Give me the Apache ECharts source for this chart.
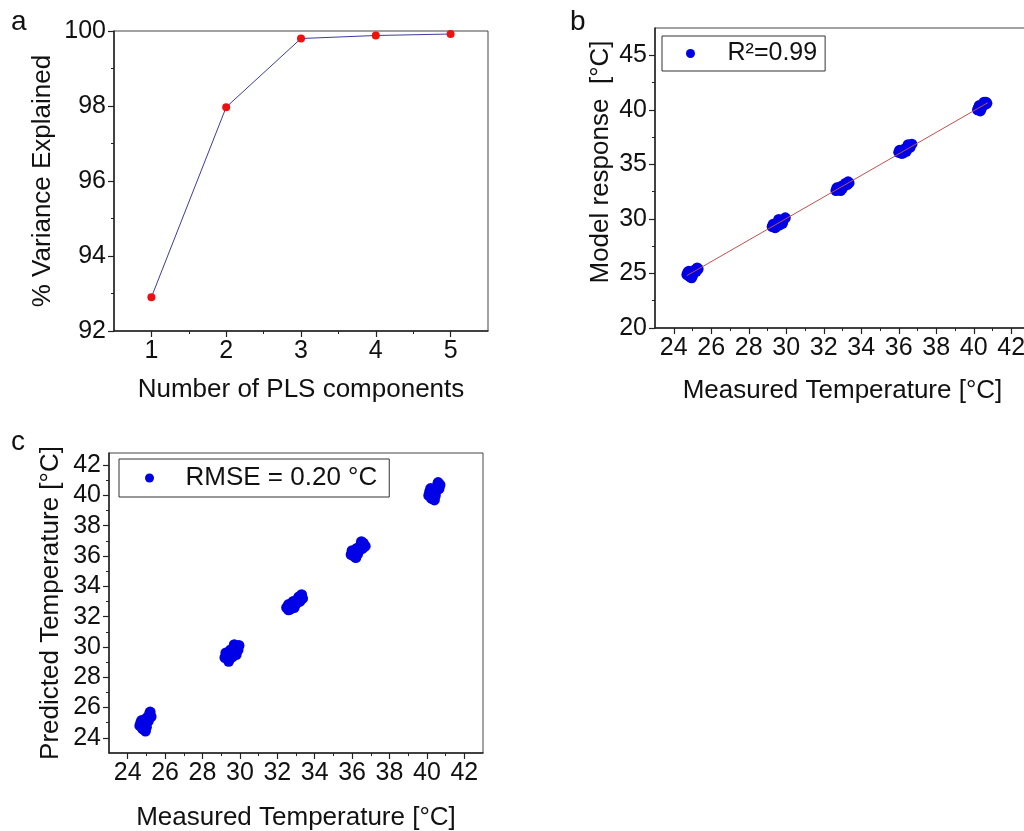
<!DOCTYPE html>
<html>
<head>
<meta charset="UTF-8">
<title>PLS temperature model</title>
<script src="https://cdn.jsdelivr.net/npm/echarts@6/dist/echarts.min.js"></script>
<style>
  html, body { margin: 0; padding: 0; background: #fff; }
  #main { width: 1024px; height: 831px; }
</style>
</head>
<body>
<div id="main"></div>
<script type="text/javascript">

    // panel a - variance explained
    var plsComponents = [1, 2, 3, 4, 5];
    var varianceExplained = [92.9, 97.97, 99.8, 99.88, 99.92];

    // panel b - calibration, measured vs model response
    var bMeasured = [
        24.7, 24.75, 24.85, 24.9, 25.0, 25.05, 25.1, 25.2, 25.25, 25.3, 24.95, 24.8,
        29.25, 29.3, 29.4, 29.5, 29.55, 29.65, 29.7, 29.8, 29.85, 29.95, 29.6, 29.45,
        32.65, 32.7, 32.8, 32.85, 32.95, 33.0, 33.1, 33.15, 33.25, 33.3, 33.35, 32.9,
        36.0, 36.05, 36.15, 36.2, 36.3, 36.4, 36.45, 36.55, 36.6, 36.7, 36.25, 36.5,
        40.2, 40.25, 40.3, 40.4, 40.45, 40.5, 40.6, 40.65, 40.7, 40.35, 40.55
    ];
    var bModel = [
        24.9, 25.1, 24.7, 25.0, 24.8, 25.1, 25.3, 25.2, 25.5, 25.4, 24.6, 25.2,
        29.3, 29.5, 29.2, 29.4, 29.7, 29.45, 29.75, 29.6, 29.9, 30.1, 29.95, 29.25,
        32.6, 32.85, 32.7, 32.9, 33.0, 32.8, 33.1, 33.25, 33.15, 33.4, 33.3, 32.6,
        36.1, 36.3, 36.0, 36.25, 36.4, 36.2, 36.5, 36.7, 36.55, 36.85, 36.05, 36.8,
        40.0, 40.2, 40.4, 40.1, 40.35, 40.55, 40.5, 40.7, 40.6, 39.9, 40.7
    ];
    var fitX = [24.7, 40.75];
    var fitY = [24.8, 40.65];

    // panel c - validation, measured vs predicted
    var cMeasured = [
        24.65, 24.7, 24.8, 24.85, 24.9, 25.0, 25.0, 25.05, 25.1, 25.15, 25.2, 25.25, 24.95, 24.75,
        29.2, 29.25, 29.4, 29.45, 29.5, 29.6, 29.65, 29.75, 29.8, 29.9, 29.95, 29.4, 29.7,
        32.5, 32.6, 32.7, 32.75, 32.85, 32.9, 33.0, 33.05, 33.15, 33.2, 33.3, 33.35, 32.6,
        35.95, 36.0, 36.1, 36.15, 36.25, 36.3, 36.4, 36.45, 36.55, 36.6, 36.7, 36.5, 36.2,
        40.1, 40.15, 40.25, 40.3, 40.35, 40.45, 40.5, 40.55, 40.6, 40.65, 40.7, 40.4, 40.2
    ];
    var cPredicted = [
        24.8, 25.0, 24.6, 24.9, 25.2, 24.7, 25.0, 25.35, 25.1, 25.5, 25.7, 25.4, 24.45, 25.15,
        29.3, 29.6, 29.2, 29.5, 29.8, 29.35, 29.65, 29.9, 29.5, 29.8, 30.1, 29.05, 30.15,
        32.6, 32.8, 32.5, 32.75, 33.0, 32.6, 32.85, 33.1, 33.3, 33.0, 33.45, 33.2, 32.45,
        36.1, 36.35, 36.0, 36.25, 36.5, 36.15, 36.4, 36.7, 36.5, 36.85, 36.65, 36.95, 35.9,
        40.0, 40.25, 39.8, 40.1, 40.4, 40.0, 40.3, 40.6, 40.85, 40.45, 40.7, 39.7, 40.45
    ];

    // tick labels
    var aXLabels = [1, 2, 3, 4, 5];
    var aXMinor = [1.5, 2.5, 3.5, 4.5];
    var aYLabels = [92, 94, 96, 98, 100];
    var aYMinor = [93, 95, 97, 99];
    var bXLabels = [24, 26, 28, 30, 32, 34, 36, 38, 40, 42];
    var bXMinor = [25, 27, 29, 31, 33, 35, 37, 39, 41];
    var bYLabels = [20, 25, 30, 35, 40, 45];
    var bYMinor = [22.5, 27.5, 32.5, 37.5, 42.5];
    var cXLabels = [24, 26, 28, 30, 32, 34, 36, 38, 40, 42];
    var cXMinor = [25, 27, 29, 31, 33, 35, 37, 39, 41];
    var cYLabels = [24, 26, 28, 30, 32, 34, 36, 38, 40, 42];
    var cYMinor = [25, 27, 29, 31, 33, 35, 37, 39, 41];

    var FONT = 'Arial, "Liberation Sans", sans-serif';
    var AXIS_COLOR = '#222';

    function zip(xs, ys) {
        return xs.map(function (x, i) { return [x, ys[i]]; });
    }

    // main axis (line, labels, major ticks) + overlay axis for minor ticks
    function axisPair(grid, pos, min, max, labels, minors, name, nameGap, nameExtra) {
        var main = {
            type: 'value', gridIndex: grid, position: pos, min: min, max: max,
            name: name, nameLocation: 'middle', nameGap: nameGap,
            nameTextStyle: Object.assign({ fontFamily: FONT, fontSize: 26, color: '#111' }, nameExtra || {}),
            axisLine: { show: true, lineStyle: { color: AXIS_COLOR, width: 1.5 } },
            axisTick: { show: true, inside: false, length: 6, customValues: labels,
                lineStyle: { color: AXIS_COLOR, width: 1.2 } },
            axisLabel: { show: true, customValues: labels, margin: 8,
                fontFamily: FONT, fontSize: 25, color: '#111' },
            splitLine: { show: false }
        };
        var minor = {
            type: 'value', gridIndex: grid, position: pos, min: min, max: max,
            axisLine: { show: false },
            axisTick: { show: true, inside: false, length: 3, customValues: minors,
                lineStyle: { color: AXIS_COLOR, width: 1 } },
            axisLabel: { show: false },
            splitLine: { show: false }
        };
        return [main, minor];
    }

    var myChart = echarts.init(document.getElementById('main'));

    var gridStyle = { show: true, borderColor: '#444', borderWidth: 1, backgroundColor: 'transparent',
        containLabel: false, outerBoundsMode: 'none' };

    var xAxes = [].concat(
        axisPair(0, 'bottom', 0.5, 5.5, aXLabels, aXMinor, 'Number of PLS components', 46),
        axisPair(1, 'bottom', 23, 43, bXLabels, bXMinor, 'Measured Temperature [°C]', 50),
        axisPair(2, 'bottom', 23, 43, cXLabels, cXMinor, 'Measured Temperature [°C]', 52)
    );
    var yAxes = [].concat(
        axisPair(0, 'left', 92, 100, aYLabels, aYMinor, '% Variance Explained', 58),
        axisPair(1, 'left', 20, 47.5, bYLabels, bYMinor, 'Model response  [°C]', 41, { padding: [0, 0, 0, 32] }),
        axisPair(2, 'left', 23, 42.8, cYLabels, cYMinor, 'Predicted Temperature [°C]', 45)
    );

    option = {
        backgroundColor: '#fff',
        animation: false,
        grid: [
            Object.assign({ left: 114, top: 31, width: 374, height: 300 }, gridStyle),
            Object.assign({ left: 655, top: 28, right: -6, height: 300 }, gridStyle),
            Object.assign({ left: 109, top: 453, width: 374, height: 300 }, gridStyle)
        ],
        xAxis: xAxes,
        yAxis: yAxes,
        legend: [
            {
                data: ['R²=0.99'],
                left: 662, top: 36, orient: 'horizontal',
                borderColor: '#333', borderWidth: 1, borderRadius: 0,
                padding: [5, 8, 5, 24],
                itemWidth: 14, itemHeight: 9,
                textStyle: { fontFamily: FONT, fontSize: 25, color: '#111', padding: [0, 0, 0, 25] }
            },
            {
                data: ['RMSE = 0.20 °C'],
                left: 119, top: 459, orient: 'horizontal',
                borderColor: '#333', borderWidth: 1, borderRadius: 0,
                padding: [6, 12, 6, 26],
                itemWidth: 14, itemHeight: 9,
                textStyle: { fontFamily: FONT, fontSize: 26, color: '#111', padding: [0, 0, 0, 24] }
            }
        ],
        graphic: [
            { type: 'text', left: 11, top: 8, style: { text: 'a', font: '28px ' + FONT, fill: '#111' } },
            { type: 'text', left: 570, top: 8, style: { text: 'b', font: '28px ' + FONT, fill: '#111' } },
            { type: 'text', left: 11, top: 428, style: { text: 'c', font: '28px ' + FONT, fill: '#111' } }
        ],
        series: [
            {
                name: 'variance',
                type: 'line',
                xAxisIndex: 0, yAxisIndex: 0,
                data: zip(plsComponents, varianceExplained),
                symbol: 'circle', symbolSize: 8,
                itemStyle: { color: '#ee1111' },
                lineStyle: { color: '#3c3c9c', width: 1 }
            },
            {
                name: 'R²=0.99',
                type: 'scatter',
                xAxisIndex: 2, yAxisIndex: 2,
                data: zip(bMeasured, bModel),
                symbol: 'circle', symbolSize: 11,
                itemStyle: { color: '#0000e6', opacity: 1 }
            },
            {
                name: 'fit',
                type: 'line',
                xAxisIndex: 2, yAxisIndex: 2,
                data: zip(fitX, fitY),
                showSymbol: false, symbol: 'none',
                lineStyle: { color: '#c0504d', width: 1 },
                z: 5
            },
            {
                name: 'RMSE = 0.20 °C',
                type: 'scatter',
                xAxisIndex: 4, yAxisIndex: 4,
                data: zip(cMeasured, cPredicted),
                symbol: 'circle', symbolSize: 11,
                itemStyle: { color: '#0000e6', opacity: 1 }
            }
        ]
    };

    myChart.setOption(option);
</script>
</body>
</html>
